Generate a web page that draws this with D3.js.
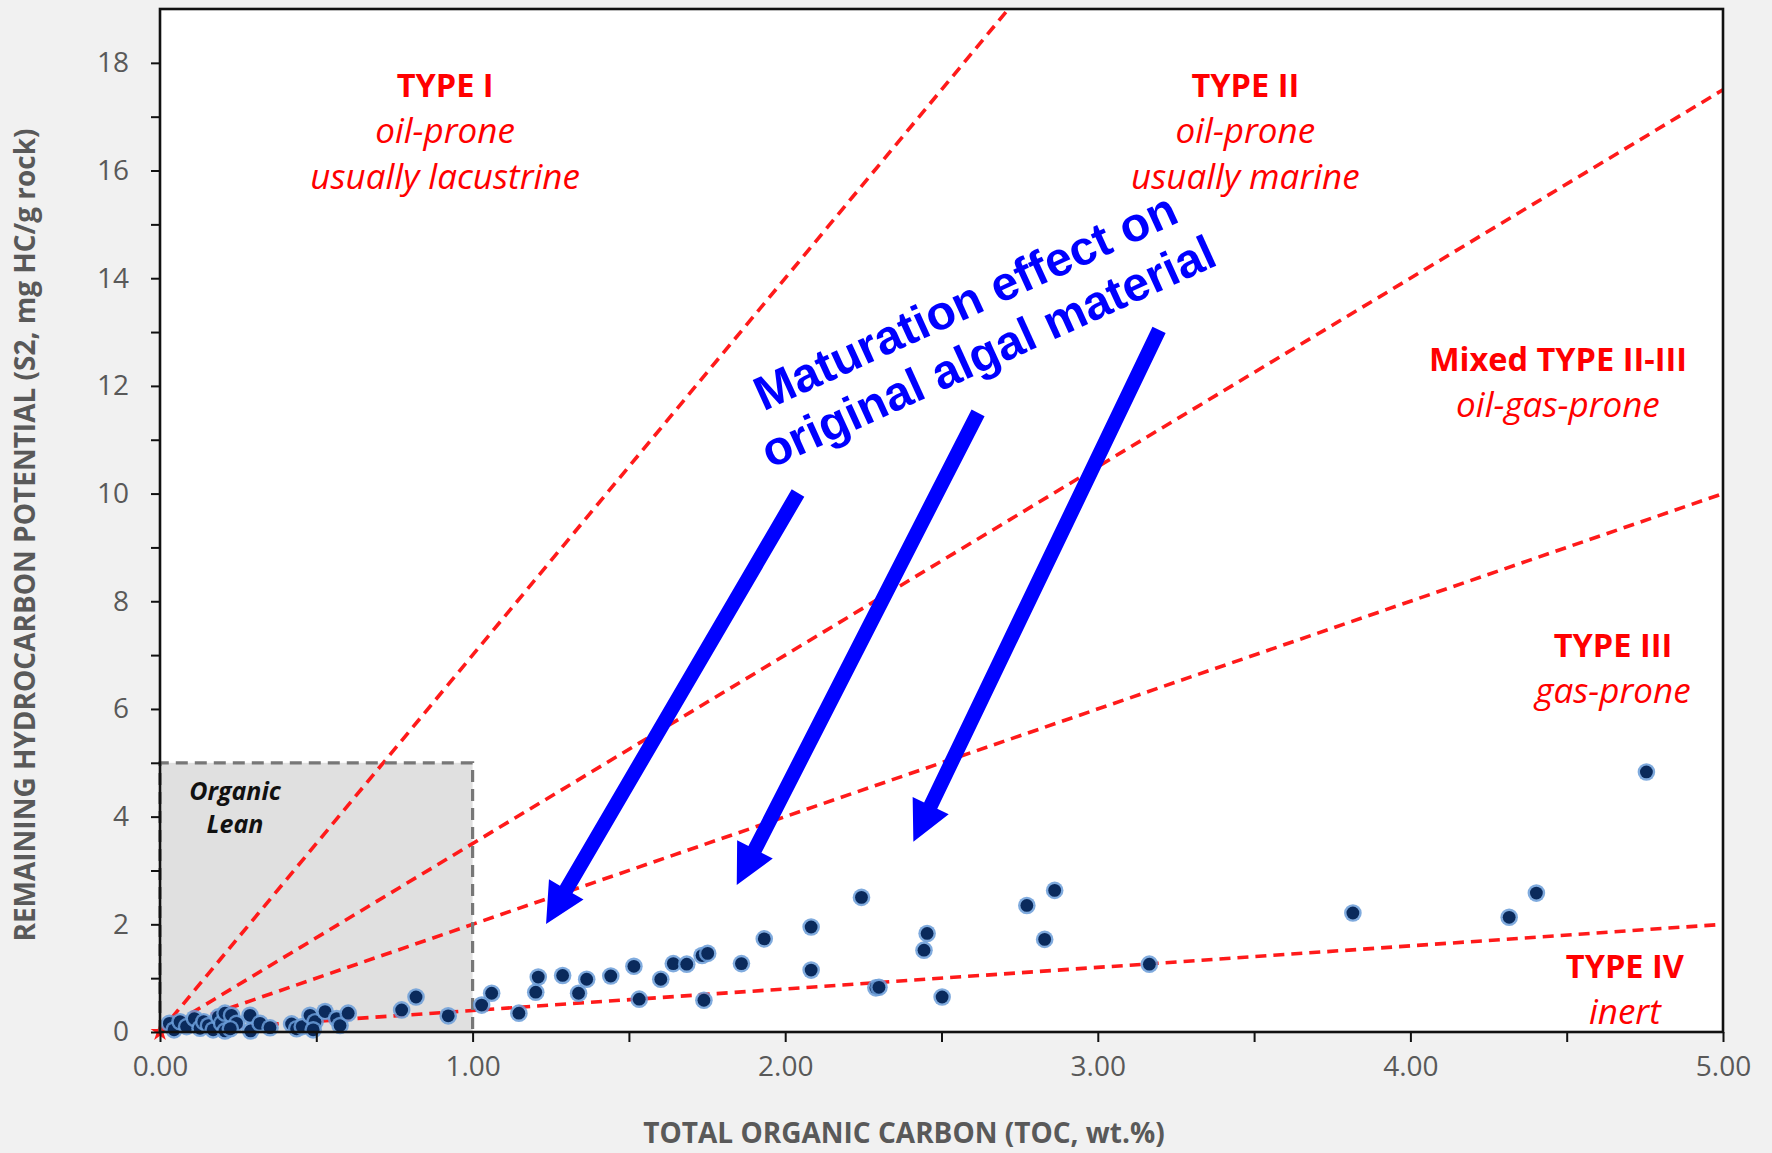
<!DOCTYPE html>
<html>
<head>
<meta charset="utf-8">
<script src="https://cdn.jsdelivr.net/npm/d3@7"></script>
<style>
  body { margin: 0; background: #f1f1f1; }
  svg { display: block; }
</style>
</head>
<body>
<div id="chart"></div>
<script>
// Rock-Eval samples: TOC (wt.%) against S2 (mg HC/g rock)
var toc = [0.03, 0.045, 0.064, 0.085, 0.11, 0.128, 0.14, 0.155, 0.17, 0.187,
           0.197, 0.208, 0.208, 0.229, 0.245, 0.225, 0.288, 0.29, 0.32, 0.352,
           0.421, 0.437, 0.455, 0.48, 0.496, 0.49, 0.528, 0.565, 0.576, 0.602,
           0.773, 0.819, 0.922,
           1.029, 1.061, 1.148, 1.202, 1.21, 1.288, 1.339, 1.365, 1.442, 1.516,
           1.533, 1.602, 1.642, 1.685, 1.734, 1.752, 1.74, 1.86, 1.933, 2.083,
           2.083, 2.244, 2.29, 2.30, 2.454, 2.444, 2.502, 2.773, 2.862, 2.83,
           3.165, 3.816, 4.316, 4.403, 4.755];
var s2  = [0.16, 0.04, 0.19, 0.10, 0.25, 0.07, 0.19, 0.12, 0.04, 0.28,
           0.16, 0.35, 0.02, 0.31, 0.16, 0.06, 0.31, 0.02, 0.16, 0.08,
           0.15, 0.06, 0.10, 0.31, 0.19, 0.04, 0.38, 0.25, 0.12, 0.35,
           0.41, 0.65, 0.30,
           0.50, 0.72, 0.35, 0.74, 1.02, 1.05, 0.72, 0.98, 1.04, 1.22,
           0.61, 0.98, 1.27, 1.26, 1.42, 1.46, 0.59, 1.27, 1.73, 1.95,
           1.15, 2.50, 0.82, 0.83, 1.83, 1.52, 0.65, 2.35, 2.63, 1.72,
           1.26, 2.21, 2.13, 2.58, 4.83];

// kerogen type boundaries through the origin, S2/TOC (HI / 100)
var typeSlopes = [7, 3.5, 2, 0.4];

// organic lean field
var leanToc = 1.0;
var leanS2 = 5.0;

var xTicks = d3.range(0, 5.001, 0.5);
var yTicks = d3.range(0, 19, 1);

// zone labels: [toc, s2, title, description lines]
var zoneLabels = [
  [0.912, 17.37, "TYPE I", ["oil-prone", "usually lacustrine"]],
  [3.472, 17.37, "TYPE II", ["oil-prone", "usually marine"]],
  [4.472, 12.28, "Mixed TYPE II-III", ["oil-gas-prone"]],
  [4.648, 6.965, "TYPE III", ["gas-prone"]],
  [4.686, 1.003, "TYPE IV", ["inert"]]
];

// maturation arrows: [toc start, s2 start, toc tip, s2 tip]
var arrows = [
  [2.041, 10.01, 1.235, 2.006],
  [2.617, 11.50, 1.845, 2.73],
  [3.196, 13.04, 2.410, 3.535]
];

var width = 1772, height = 1153;
var plotLeft = 160, plotRight = 1723, plotTop = 9, plotBottom = 1032;

var svg = d3.select("#chart").append("svg")
  .attr("width", width)
  .attr("height", height);

svg.append("rect").attr("width", width).attr("height", height).attr("fill", "#f1f1f1");

var x = d3.scaleLinear().domain([0, 5]).range([plotLeft, plotRight]);
var y = d3.scaleLinear().domain([0, 19]).range([plotBottom, plotTop]);

svg.append("defs").append("clipPath").attr("id", "plot")
  .append("rect")
    .attr("x", plotLeft).attr("y", plotTop)
    .attr("width", plotRight - plotLeft).attr("height", plotBottom - plotTop);

//white plot area
svg.append("rect")
  .attr("x", plotLeft).attr("y", plotTop)
  .attr("width", plotRight - plotLeft).attr("height", plotBottom - plotTop)
  .attr("fill", "#ffffff");

//organic lean box
svg.append("rect")
  .attr("x", x(0)).attr("y", y(leanS2))
  .attr("width", x(leanToc) - x(0)).attr("height", y(0) - y(leanS2))
  .attr("fill", "#e0e0e0");

//type boundary lines
svg.append("g").attr("clip-path", "url(#plot)")
  .selectAll("line")
  .data(typeSlopes)
  .enter().append("line")
    .attr("x1", x(0)).attr("y1", y(0))
    .attr("x2", d => x(Math.min(5, 19 / d)))
    .attr("y2", d => y(Math.min(5, 19 / d) * d))
    .attr("stroke", "#ff1a1a")
    .attr("stroke-width", 3.6)
    .attr("stroke-dasharray", "11,7");

svg.append("path")
  .attr("d", d3.symbol(d3.symbolStar, 110)())
  .attr("transform", "translate(" + x(0) + "," + y(0) + ")")
  .attr("fill", "#ff1a1a");

//dashed border of the lean box
svg.append("path")
  .attr("d", "M" + x(0) + "," + y(0) + "V" + y(leanS2) + "H" + x(leanToc) + "V" + y(0))
  .attr("fill", "none")
  .attr("stroke", "#777")
  .attr("stroke-width", 3.2)
  .attr("stroke-dasharray", "12,7");

var lean = svg.append("text")
  .attr("font-family", "'Open Sans', sans-serif")
  .attr("font-size", 25)
  .attr("font-weight", "bold")
  .attr("font-style", "italic")
  .attr("fill", "#111")
  .attr("text-anchor", "middle");
lean.append("tspan").attr("x", x(0.24)).attr("y", y(4.31)).text("Organic");
lean.append("tspan").attr("x", x(0.24)).attr("dy", 33).text("Lean");

//samples: light glow under a dark core
var pts = svg.append("g")
  .selectAll("g")
  .data(d3.range(toc.length))
  .enter().append("g")
    .attr("transform", i => "translate(" + x(toc[i]) + "," + y(s2[i]) + ")");
pts.append("circle").attr("r", 8.8).attr("fill", "#6a9cd8").attr("opacity", 0.85);
pts.append("circle").attr("r", 6.4).attr("fill", "#0a2a5c");

//axes
var xAxis = d3.axisBottom(x)
  .tickValues(xTicks)
  .tickSize(10)
  .tickPadding(14)
  .tickFormat(d => Number.isInteger(d) ? d3.format(".2f")(d) : "");
var gx = svg.append("g")
  .attr("transform", "translate(0," + plotBottom + ")")
  .call(xAxis);

var yAxis = d3.axisLeft(y)
  .tickValues(yTicks)
  .tickSize(9)
  .tickPadding(22)
  .tickFormat(d => d % 2 === 0 ? d : "");
var gy = svg.append("g")
  .attr("transform", "translate(" + plotLeft + ",0)")
  .call(yAxis);

[gx, gy].forEach(g => {
  g.select(".domain").remove();
  g.selectAll(".tick line").attr("stroke", "#111").attr("stroke-width", 2);
  g.selectAll(".tick text")
    .attr("fill", "#595959")
    .attr("font-family", "'Open Sans', sans-serif")
    .attr("font-size", 28);
});

//frame
svg.append("rect")
  .attr("x", plotLeft).attr("y", plotTop)
  .attr("width", plotRight - plotLeft).attr("height", plotBottom - plotTop)
  .attr("fill", "none")
  .attr("stroke", "#111")
  .attr("stroke-width", 2.6);

//axis titles
svg.append("text")
  .attr("transform", "translate(25,535) rotate(-90)")
  .attr("dy", "0.35em")
  .attr("text-anchor", "middle")
  .attr("font-family", "'Open Sans', sans-serif")
  .attr("font-size", 28)
  .attr("font-weight", "bold")
  .attr("fill", "#595959")
  .text("REMAINING HYDROCARBON POTENTIAL (S2, mg HC/g rock)");

svg.append("text")
  .attr("x", 904)
  .attr("y", 1143)
  .attr("text-anchor", "middle")
  .attr("font-family", "'Open Sans', sans-serif")
  .attr("font-size", 28)
  .attr("font-weight", "bold")
  .attr("fill", "#595959")
  .text("TOTAL ORGANIC CARBON (TOC, wt.%)");

//zone labels
zoneLabels.forEach(z => {
  var t = svg.append("text")
    .attr("text-anchor", "middle")
    .attr("font-family", "'Open Sans', sans-serif")
    .attr("fill", "#ff0000");
  t.append("tspan").attr("x", x(z[0])).attr("y", y(z[1]))
    .attr("font-size", 32.5)
    .attr("font-weight", "bold").text(z[2]);
  z[3].forEach(line => {
    t.append("tspan").attr("x", x(z[0])).attr("dy", 46)
      .attr("font-size", 35)
      .attr("font-style", "italic").text(line);
  });
});

//maturation arrows
function arrowPoints(a) {
  var x1 = x(a[0]), y1 = y(a[1]), x2 = x(a[2]), y2 = y(a[3]);
  var len = Math.hypot(x2 - x1, y2 - y1);
  var ux = (x2 - x1) / len, uy = (y2 - y1) / len;
  var px = -uy, py = ux;
  var sw = 7.3, hw = 20, hl = 40;
  var bx = x2 - ux * hl, by = y2 - uy * hl;
  return [[x1 + px * sw, y1 + py * sw], [bx + px * sw, by + py * sw],
          [bx + px * hw, by + py * hw], [x2, y2],
          [bx - px * hw, by - py * hw], [bx - px * sw, by - py * sw],
          [x1 - px * sw, y1 - py * sw]];
}
svg.append("g")
  .selectAll("polygon")
  .data(arrows)
  .enter().append("polygon")
    .attr("points", d => arrowPoints(d).map(p => p.join(",")).join(" "))
    .attr("fill", "#0000ff");

var note = svg.append("text")
  .attr("transform", "translate(" + x(2.598) + "," + y(13.29) + ") rotate(-24.5)")
  .attr("text-anchor", "middle")
  .attr("font-family", "'Liberation Sans', Arial, sans-serif")
  .attr("font-size", 48)
  .attr("font-weight", "bold")
  .attr("fill", "#0000ff");
note.append("tspan").attr("x", 0).attr("y", 0).text("Maturation effect on");
note.append("tspan").attr("x", 0).attr("y", 55).text("original algal material");
</script>
</body>
</html>
